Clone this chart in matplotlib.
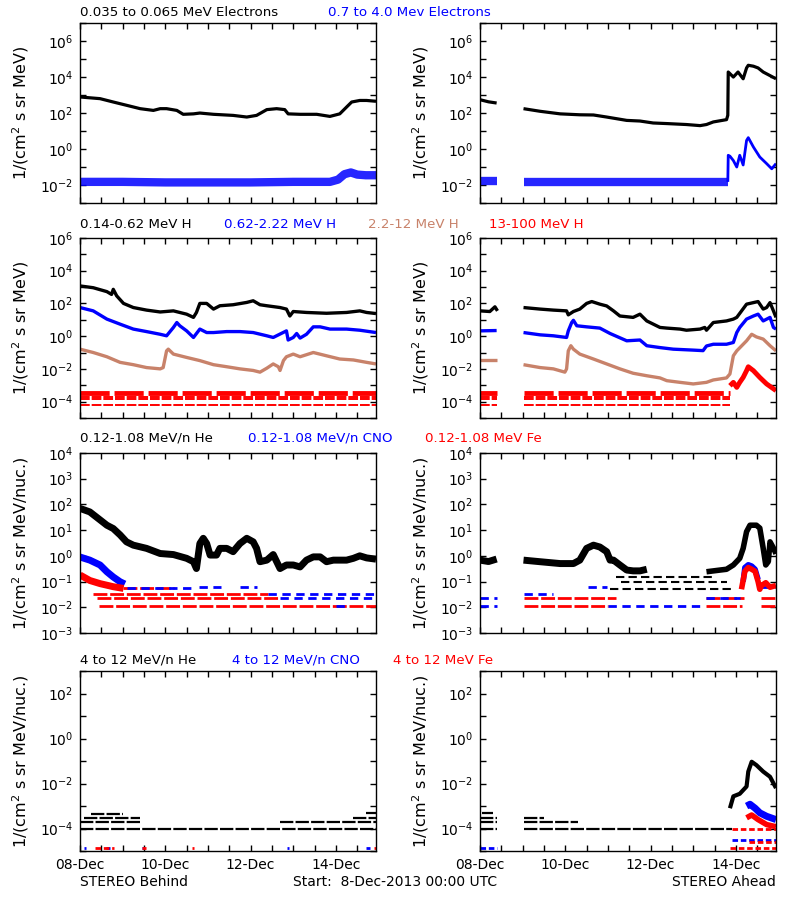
import numpy as np
import matplotlib.pyplot as plt
from matplotlib.ticker import FixedLocator, MultipleLocator

TAN = '#c8826a'

# time axis: days since 2013-12-08 00:00 UTC
t_end = 6.94
day_ticks = [0, 2, 4, 6]
day_labels = ['08-Dec', '10-Dec', '12-Dec', '14-Dec']

# ---------------- row 1: electrons ----------------
# Behind 0.035-0.065 MeV
eb_lo_t = [0, 0.47, 0.78, 1.09, 1.41, 1.72, 1.88, 2.03, 2.27, 2.42, 2.66, 2.81, 3.13, 3.59, 3.91,
           4.14, 4.38, 4.61, 4.80, 4.88, 5.16, 5.55, 5.86, 6.09, 6.25, 6.37, 6.56, 6.72, 6.94]
eb_lo_v = [780, 630, 410, 270, 175, 140, 175, 175, 140, 85, 90, 100, 85, 74, 60,
           74, 155, 175, 155, 90, 85, 85, 65, 90, 215, 410, 500, 500, 450]
# Behind 0.7-4.0 MeV (noise band)
eb_hi_t = [0, 1, 2, 3, 4, 5, 5.86, 6.05, 6.2, 6.35, 6.5, 6.7, 6.94]
eb_hi_v = [0.015, 0.015, 0.014, 0.014, 0.014, 0.015, 0.015, 0.02, 0.04, 0.05, 0.038, 0.035, 0.035]
# Ahead 0.035-0.065 MeV
ea_lo_t1 = [0, 0.2, 0.39]
ea_lo_v1 = [550, 420, 360]
ea_lo_t2 = [1.02, 1.41, 1.88, 2.34, 2.66, 2.97, 3.44, 3.75, 4.06, 4.38, 4.84, 5.16, 5.31, 5.47, 5.78,
            5.81, 5.82, 5.94, 6.05, 6.17, 6.25, 6.29, 6.41, 6.52, 6.64, 6.80, 6.94]
ea_lo_v2 = [175, 125, 90, 80, 78, 60, 39, 36, 28, 26, 23, 20, 23, 32, 43,
            75, 19000, 10000, 19000, 8000, 32000, 45000, 40000, 32000, 19000, 12000, 8000]
# Ahead 0.7-4.0 MeV
ea_hi_t1 = [0, 0.39]
ea_hi_v1 = [0.016, 0.016]
ea_hi_t2 = [1.02, 2, 3, 4, 5, 5.81]
ea_hi_v2 = [0.015, 0.015, 0.015, 0.015, 0.015, 0.015]
ea_hi_t3 = [5.81, 5.82, 5.86, 5.94, 6.02, 6.09, 6.17, 6.25, 6.29, 6.41, 6.56, 6.72, 6.84, 6.94]
ea_hi_v3 = [0.015, 0.45, 0.4, 0.23, 0.1, 0.45, 0.13, 3.0, 4.3, 1.3, 0.36, 0.155, 0.08, 0.155]

# ---------------- row 2: protons ----------------
hb_1_t = [0, 0.31, 0.63, 0.74, 0.78, 0.86, 1.02, 1.25, 1.56, 1.88, 2.19, 2.50, 2.66, 2.73, 2.81, 2.97,
          3.13, 3.28, 3.59, 3.91, 4.06, 4.22, 4.38, 4.69, 4.84, 4.92, 5.0, 5.31, 5.78, 6.25, 6.56, 6.72, 6.94]
hb_1_v = [1170, 910, 525, 355, 725, 290, 100, 56, 39, 30, 35, 22, 14, 28, 100, 100,
          45, 72, 83, 115, 145, 83, 72, 56, 45, 17, 32, 28, 25, 28, 35, 28, 24]
hb_2_t = [0, 0.31, 0.63, 0.94, 1.25, 1.56, 1.88, 2.03, 2.19, 2.27, 2.34, 2.50, 2.66, 2.81, 2.97, 3.13,
          3.44, 3.75, 4.06, 4.38, 4.53, 4.84, 4.88, 5.0, 5.08, 5.16, 5.31, 5.47, 5.63, 5.86, 6.25, 6.56, 6.94]
hb_2_v = [56, 35, 11, 5.4, 2.7, 1.9, 1.3, 1.05, 3.4, 6.8, 4.3, 2.1, 0.83, 2.7, 1.66, 1.66,
          1.9, 1.9, 1.66, 1.05, 0.83, 2.1, 0.58, 0.83, 1.45, 0.76, 1.3, 3.7, 3.7, 2.7, 2.7, 2.3, 1.66]
hb_3_t = [0, 0.31, 0.63, 0.94, 1.25, 1.56, 1.88, 1.95, 2.03, 2.07, 2.19, 2.50, 2.81, 3.13, 3.44, 3.75,
          4.06, 4.22, 4.38, 4.53, 4.65, 4.69, 4.77, 4.84, 5.0, 5.16, 5.47, 5.78, 6.09, 6.41, 6.72, 6.94]
hb_3_v = [0.16, 0.1, 0.055, 0.025, 0.018, 0.012, 0.01, 0.012, 0.126, 0.16, 0.08, 0.05, 0.032, 0.018, 0.0135, 0.01,
          0.008, 0.0063, 0.011, 0.02, 0.0135, 0.008, 0.032, 0.055, 0.08, 0.055, 0.1, 0.063, 0.04, 0.035, 0.025, 0.02]
# 13-100 MeV: noisy band level and count floors [t0, t1, value]
hb_4_band = [[0, 6.94, 3.2e-4]]
hb_4_lvl = [[0, 6.94, 1.9e-4], [0, 6.94, 1.45e-4], [0, 6.94, 6.0e-5]]

ha_1_t1 = [0, 0.23, 0.35, 0.41]
ha_1_v1 = [35, 32, 62, 35]
ha_1_t2 = [1.02, 1.41, 1.72, 2.03, 2.07, 2.19, 2.34, 2.50, 2.62, 2.81, 2.97, 3.13, 3.28, 3.59, 3.75, 3.91,
           4.22, 4.38, 4.69, 4.84, 5.16, 5.27, 5.31, 5.47, 5.78, 5.94, 6.02, 6.25, 6.41, 6.52, 6.64, 6.72,
           6.80, 6.88, 6.94]
ha_1_v2 = [56, 45, 39, 35, 20, 32, 45, 100, 130, 90, 70, 35, 17, 14, 22, 8.5,
           3.4, 3.1, 2.7, 2.3, 2.7, 3.4, 2.3, 6.8, 8.5, 11, 14, 90, 112, 130, 45, 56,
           112, 35, 14]
ha_2_t1 = [0, 0.39]
ha_2_v1 = [2.1, 2.2]
ha_2_t2 = [1.02, 1.41, 1.72, 2.03, 2.07, 2.15, 2.19, 2.27, 2.50, 2.81, 3.05, 3.44, 3.75, 3.91, 4.22, 4.53,
           5.0, 5.23, 5.31, 5.47, 5.78, 5.94, 6.02, 6.09, 6.25, 6.41, 6.52, 6.64, 6.80, 6.88, 6.94]
ha_2_v2 = [1.66, 1.2, 1.05, 0.83, 2.1, 6.8, 9.3, 4.3, 3.7, 3.1, 1.45, 0.52, 0.58, 0.26, 0.2, 0.16,
           0.14, 0.13, 0.25, 0.32, 0.32, 0.41, 1.66, 3.4, 11, 17, 22, 8.5, 14, 3.4, 2.7]
ha_3_t1 = [0, 0.39]
ha_3_v1 = [0.035, 0.035]
ha_3_t2 = [1.02, 1.41, 1.72, 1.99, 2.03, 2.07, 2.13, 2.19, 2.34, 2.66, 2.97, 3.28, 3.59, 3.91, 4.22, 4.38,
           4.69, 5.0, 5.31, 5.47, 5.78, 5.86, 5.94, 6.02, 6.25, 6.37, 6.48, 6.64, 6.80, 6.94]
ha_3_v2 = [0.018, 0.012, 0.01, 0.0063, 0.01, 0.126, 0.26, 0.16, 0.08, 0.04, 0.02, 0.01, 0.0054, 0.0038, 0.0028, 0.0019,
           0.0015, 0.0012, 0.0015, 0.0021, 0.0028, 0.0049, 0.063, 0.126, 0.52, 1.3, 0.9, 0.66, 0.26, 0.126]
ha_4_band = [[0, 0.39, 3.2e-4], [1.02, 5.86, 3.2e-4]]
ha_4_lvl = [[0, 0.39, 1.9e-4], [0, 0.39, 1.45e-4], [0, 0.39, 6.0e-5],
            [1.02, 5.86, 1.9e-4], [1.02, 5.86, 1.45e-4], [1.02, 5.86, 6.0e-5]]
ha_4_t = [5.86, 5.94, 6.02, 6.09, 6.17, 6.25, 6.29, 6.41, 6.56, 6.72, 6.94]
ha_4_v = [9.3e-4, 1.5e-3, 7.4e-4, 1.5e-3, 3e-3, 7.8e-3, 0.0135, 7.8e-3, 3e-3, 1.2e-3, 4.7e-4]

# ---------------- row 3: 0.12-1.08 MeV/n ions ----------------
ib_he_t = [0, 0.23, 0.47, 0.63, 0.78, 0.94, 1.09, 1.25, 1.56, 1.88, 2.19, 2.50, 2.66, 2.73, 2.81, 2.89,
           2.97, 3.05, 3.20, 3.28, 3.44, 3.59, 3.75, 3.91, 4.06, 4.14, 4.22, 4.38, 4.53, 4.69, 4.84, 5.0,
           5.16, 5.31, 5.47, 5.63, 5.78, 5.94, 6.09, 6.25, 6.41, 6.56, 6.72, 6.94]
ib_he_v = [70, 51, 25, 15.5, 11.5, 6.5, 3.5, 2.6, 1.95, 1.23, 1.12, 0.8, 0.59, 0.32, 3.0, 4.8,
           3.0, 1.07, 1.07, 1.95, 1.95, 1.45, 3.0, 4.8, 3.5, 1.95, 0.59, 0.68, 1.12, 0.32, 0.44, 0.44,
           0.37, 0.68, 0.91, 0.91, 0.59, 0.68, 0.68, 0.68, 0.8, 1.0, 0.83, 0.74]
ib_cno_t = [0, 0.23, 0.47, 0.63, 0.78, 0.94, 1.05]
ib_cno_v = [0.9, 0.68, 0.44, 0.24, 0.15, 0.098, 0.08]
ib_cno_lvl = [[2.8, 3.3, 0.06], [3.75, 4.14, 0.06], [1.1, 2.6, 0.055], [4.4, 6.94, 0.034],
              [4.7, 6.94, 0.022], [6.0, 6.3, 0.011]]
ib_fe_t = [0, 0.23, 0.47, 0.78, 1.02]
ib_fe_v = [0.18, 0.11, 0.083, 0.063, 0.054]
ib_fe_lvl = [[1.0, 2.2, 0.055], [0.3, 4.4, 0.034], [0.4, 4.7, 0.022], [0.45, 6.94, 0.011]]

ia_he_t1 = [0, 0.2, 0.39]
ia_he_v1 = [0.68, 0.6, 0.75]
ia_he_t2 = [1.02, 1.41, 1.88, 2.19, 2.34, 2.50, 2.66, 2.81, 2.97, 3.05, 3.13, 3.28, 3.44, 3.59, 3.75, 3.91]
ia_he_v2 = [0.68, 0.59, 0.5, 0.5, 0.68, 1.95, 2.6, 2.2, 1.45, 0.68, 0.68, 0.44, 0.28, 0.26, 0.26, 0.3]
ia_he_t3 = [5.31, 5.63, 5.78, 5.94, 6.09, 6.17, 6.25, 6.33, 6.48, 6.56, 6.64, 6.70, 6.76, 6.80, 6.88, 6.94]
ia_he_v3 = [0.24, 0.28, 0.3, 0.44, 0.8, 1.95, 8.7, 15.5, 15.5, 12, 1.95, 0.44, 0.6, 3.5, 2.0, 1.2]
ia_he_lvl = [[3.2, 5.5, 0.15], [3.3, 5.8, 0.097], [3.05, 5.9, 0.05]]
ia_cno_t = [6.17, 6.21, 6.29, 6.37, 6.45, 6.52]
ia_cno_v = [0.1, 0.35, 0.45, 0.4, 0.3, 0.12]
ia_cno_lvl = [[2.54, 2.97, 0.06], [6.6, 6.94, 0.06], [0, 0.39, 0.022], [0, 0.39, 0.011],
              [3.0, 5.2, 0.011], [1.02, 1.7, 0.034], [5.3, 6.1, 0.022]]
ia_fe_t = [6.13, 6.21, 6.29, 6.37, 6.45, 6.52, 6.56, 6.6, 6.7, 6.8, 6.94]
ia_fe_v = [0.05, 0.25, 0.35, 0.3, 0.25, 0.1, 0.05, 0.07, 0.09, 0.06, 0.07]
ia_fe_lvl = [[1.02, 3.2, 0.022], [5.3, 6.2, 0.022], [6.6, 6.94, 0.022],
             [1.02, 3.0, 0.011], [5.3, 6.15, 0.011], [6.6, 6.94, 0.011]]

# ---------------- row 4: 4-12 MeV/n ions ----------------
jb_he_lvl = [[0, 6.94, 1e-4], [0, 1.45, 2e-4], [4.69, 6.94, 2e-4], [0.1, 1.4, 3e-4],
             [6.4, 6.94, 3e-4], [0.25, 1.0, 4.5e-4], [6.7, 6.94, 5e-4]]
jb_cno_lvl = [[0.1, 0.15, 1.4e-5], [0.6, 0.7, 1.4e-5], [1.45, 1.5, 1.4e-5], [4.85, 4.9, 1.4e-5],
              [6.7, 6.8, 1.4e-5]]
jb_fe_lvl = [[0.35, 0.8, 1.4e-5], [1.45, 1.55, 1.4e-5], [2.63, 2.68, 1.4e-5], [6.9, 6.94, 1.4e-5]]

ja_he_lvl = [[0, 0.39, 1e-4], [1.02, 5.9, 1e-4], [0, 0.39, 2e-4], [1.02, 2.3, 2e-4],
             [0, 0.39, 3e-4], [1.02, 1.5, 3e-4], [0.05, 0.3, 5e-4]]
ja_he_t = [5.86, 5.94, 6.09, 6.25, 6.29, 6.37, 6.48, 6.64, 6.80, 6.94]
ja_he_v = [8e-4, 2.7e-3, 3.5e-3, 7.4e-3, 0.034, 0.093, 0.066, 0.034, 0.02, 6.3e-3]
ja_cno_t = [6.25, 6.33, 6.45, 6.56, 6.72, 6.94]
ja_cno_v = [1.0e-3, 1.2e-3, 8e-4, 5e-4, 3.5e-4, 2.5e-4]
ja_cno_lvl = [[0, 0.39, 1.4e-5], [5.9, 6.94, 3e-5]]
ja_fe_t = [6.25, 6.37, 6.52, 6.72, 6.94]
ja_fe_v = [3e-4, 4e-4, 2.5e-4, 1.5e-4, 1.2e-4]
ja_fe_lvl = [[5.86, 6.94, 1.4e-5], [6.3, 6.94, 2.5e-5], [5.9, 6.94, 1e-4]]

# ---------------- labels ----------------
row_titles = [
    [('0.035 to 0.065 MeV Electrons', 'black', 80), ('0.7 to 4.0 Mev Electrons', 'blue', 328)],
    [('0.14-0.62 MeV H', 'black', 80), ('0.62-2.22 MeV H', 'blue', 224),
     ('2.2-12 MeV H', TAN, 368), ('13-100 MeV H', 'red', 489)],
    [('0.12-1.08 MeV/n He', 'black', 80), ('0.12-1.08 MeV/n CNO', 'blue', 248),
     ('0.12-1.08 MeV Fe', 'red', 425)],
    [('4 to 12 MeV/n He', 'black', 80), ('4 to 12 MeV/n CNO', 'blue', 232),
     ('4 to 12 MeV Fe', 'red', 393)],
]
row_ylabels = ['1/(cm$^2$ s sr MeV)', '1/(cm$^2$ s sr MeV)',
               '1/(cm$^2$ s sr MeV/nuc.)', '1/(cm$^2$ s sr MeV/nuc.)']
row_ylim_exp = [(-3, 7), (-5, 6), (-3, 4), (-5, 3)]
row_label_exp = [[-2, 0, 2, 4, 6], [-4, -2, 0, 2, 4, 6], [-3, -2, -1, 0, 1, 2, 3, 4], [-4, -2, 0, 2]]

plt.rcParams['font.family'] = 'DejaVu Sans'
plt.rcParams['mathtext.default'] = 'regular'
FS = 10

fig = plt.figure(figsize=(8, 9), dpi=100)
lefts = [0.1, 0.6]
bottoms = [0.7744, 0.5356, 0.2967, 0.0544]
axes = [[fig.add_axes([l, b, 0.37, 0.2]) for l in lefts] for b in bottoms]


def line(ax, t, v, color, lw=2.0, alpha=1.0):
    ax.plot(t, v, color=color, lw=lw, alpha=alpha, solid_capstyle='butt', solid_joinstyle='round')


def levels(ax, lvl, color, lw=1.6, dash=(4, 1.5)):
    for t0, t1, v in lvl:
        ax.plot([t0, t1], [v, v], color=color, lw=lw, dashes=dash, dash_capstyle='butt')


# row 1
ax = axes[0][0]
line(ax, eb_lo_t, eb_lo_v, 'black', 2.3)
line(ax, eb_hi_t, eb_hi_v, 'blue', 6, 0.85)
ax = axes[0][1]
line(ax, ea_lo_t1, ea_lo_v1, 'black', 2.3)
line(ax, ea_lo_t2, ea_lo_v2, 'black', 2.3)
line(ax, ea_hi_t1, ea_hi_v1, 'blue', 6, 0.85)
line(ax, ea_hi_t2, ea_hi_v2, 'blue', 6, 0.85)
line(ax, ea_hi_t3, ea_hi_v3, 'blue', 2.0)

# row 2
ax = axes[1][0]
levels(ax, hb_4_band, 'red', 3.5, (6, 1))
levels(ax, hb_4_lvl, 'red', 1.4, (5, 1))
line(ax, hb_1_t, hb_1_v, 'black', 2.4)
line(ax, hb_2_t, hb_2_v, 'blue', 2.4)
line(ax, hb_3_t, hb_3_v, TAN, 2.4)
ax = axes[1][1]
levels(ax, ha_4_band, 'red', 3.5, (6, 1))
levels(ax, ha_4_lvl, 'red', 1.4, (5, 1))
line(ax, ha_4_t, ha_4_v, 'red', 3.5)
line(ax, ha_1_t1, ha_1_v1, 'black', 2.4)
line(ax, ha_1_t2, ha_1_v2, 'black', 2.4)
line(ax, ha_2_t1, ha_2_v1, 'blue', 2.4)
line(ax, ha_2_t2, ha_2_v2, 'blue', 2.4)
line(ax, ha_3_t1, ha_3_v1, TAN, 2.4)
line(ax, ha_3_t2, ha_3_v2, TAN, 2.4)

# row 3
ax = axes[2][0]
line(ax, ib_he_t, ib_he_v, 'black', 5)
levels(ax, ib_fe_lvl, 'red', 2.0, (5, 1))
levels(ax, ib_cno_lvl, 'blue', 2.0, (3, 2))
line(ax, ib_cno_t, ib_cno_v, 'blue', 5)
line(ax, ib_fe_t, ib_fe_v, 'red', 5)
ax = axes[2][1]
line(ax, ia_he_t1, ia_he_v1, 'black', 5)
line(ax, ia_he_t2, ia_he_v2, 'black', 5)
line(ax, ia_he_t3, ia_he_v3, 'black', 4)
levels(ax, ia_he_lvl, 'black', 1.5, (4, 2))
levels(ax, ia_fe_lvl, 'red', 2.0, (5, 1))
levels(ax, ia_cno_lvl, 'blue', 2.0, (3, 2))
line(ax, ia_cno_t, ia_cno_v, 'blue', 4)
line(ax, ia_fe_t, ia_fe_v, 'red', 4)

# row 4
ax = axes[3][0]
levels(ax, jb_he_lvl, 'black', 1.6, (6, 1))
levels(ax, jb_cno_lvl, 'blue', 2.0, (2, 1))
levels(ax, jb_fe_lvl, 'red', 2.0, (2, 1))
ax = axes[3][1]
levels(ax, ja_he_lvl, 'black', 1.6, (6, 1))
line(ax, ja_he_t, ja_he_v, 'black', 3)
levels(ax, ja_cno_lvl, 'blue', 2.0, (2, 1))
levels(ax, ja_fe_lvl, 'red', 2.0, (2, 1))
line(ax, ja_cno_t, ja_cno_v, 'blue', 5)
line(ax, ja_fe_t, ja_fe_v, 'red', 4)

for r in range(4):
    lo, hi = row_ylim_exp[r]
    for c in range(2):
        ax = axes[r][c]
        ax.set_yscale('log')
        ax.set_ylim(10.0 ** lo, 10.0 ** hi)
        ax.set_xlim(0, t_end)
        exps = list(range(lo, hi + 1))
        ax.yaxis.set_major_locator(FixedLocator([10.0 ** e for e in exps]))
        ax.yaxis.set_minor_locator(FixedLocator([]))
        ax.set_yticklabels(['$10^{%d}$' % e if e in row_label_exp[r] else '' for e in exps])
        ax.xaxis.set_major_locator(FixedLocator(day_ticks))
        ax.xaxis.set_minor_locator(MultipleLocator(0.5))
        if r == 3:
            ax.set_xticklabels(day_labels)
        else:
            ax.set_xticklabels([])
        ax.tick_params(which='both', direction='in', length=4, width=1, top=True, right=True,
                       labelsize=FS, pad=5)
        ax.set_ylabel(row_ylabels[r], fontsize=11.5)
        ax.yaxis.set_label_coords(-0.165, 0.5)
        for s in ax.spines.values():
            s.set_linewidth(1)

# row titles across both columns
title_y = [12, 225, 438, 660]
for r in range(4):
    for txt, col, xpx in row_titles[r]:
        fig.text(xpx / 800, 1 - title_y[r] / 900, txt, color=col, fontsize=9.6, ha='left', va='center')

fig.text(80 / 800, 1 - 882 / 900, 'STEREO Behind', fontsize=FS, ha='left', va='center')
fig.text(293 / 800, 1 - 882 / 900, 'Start:  8-Dec-2013 00:00 UTC', fontsize=FS, ha='left', va='center')
fig.text(776 / 800, 1 - 882 / 900, 'STEREO Ahead', fontsize=FS, ha='right', va='center')

fig.savefig('out.png', dpi=100, facecolor='white')
